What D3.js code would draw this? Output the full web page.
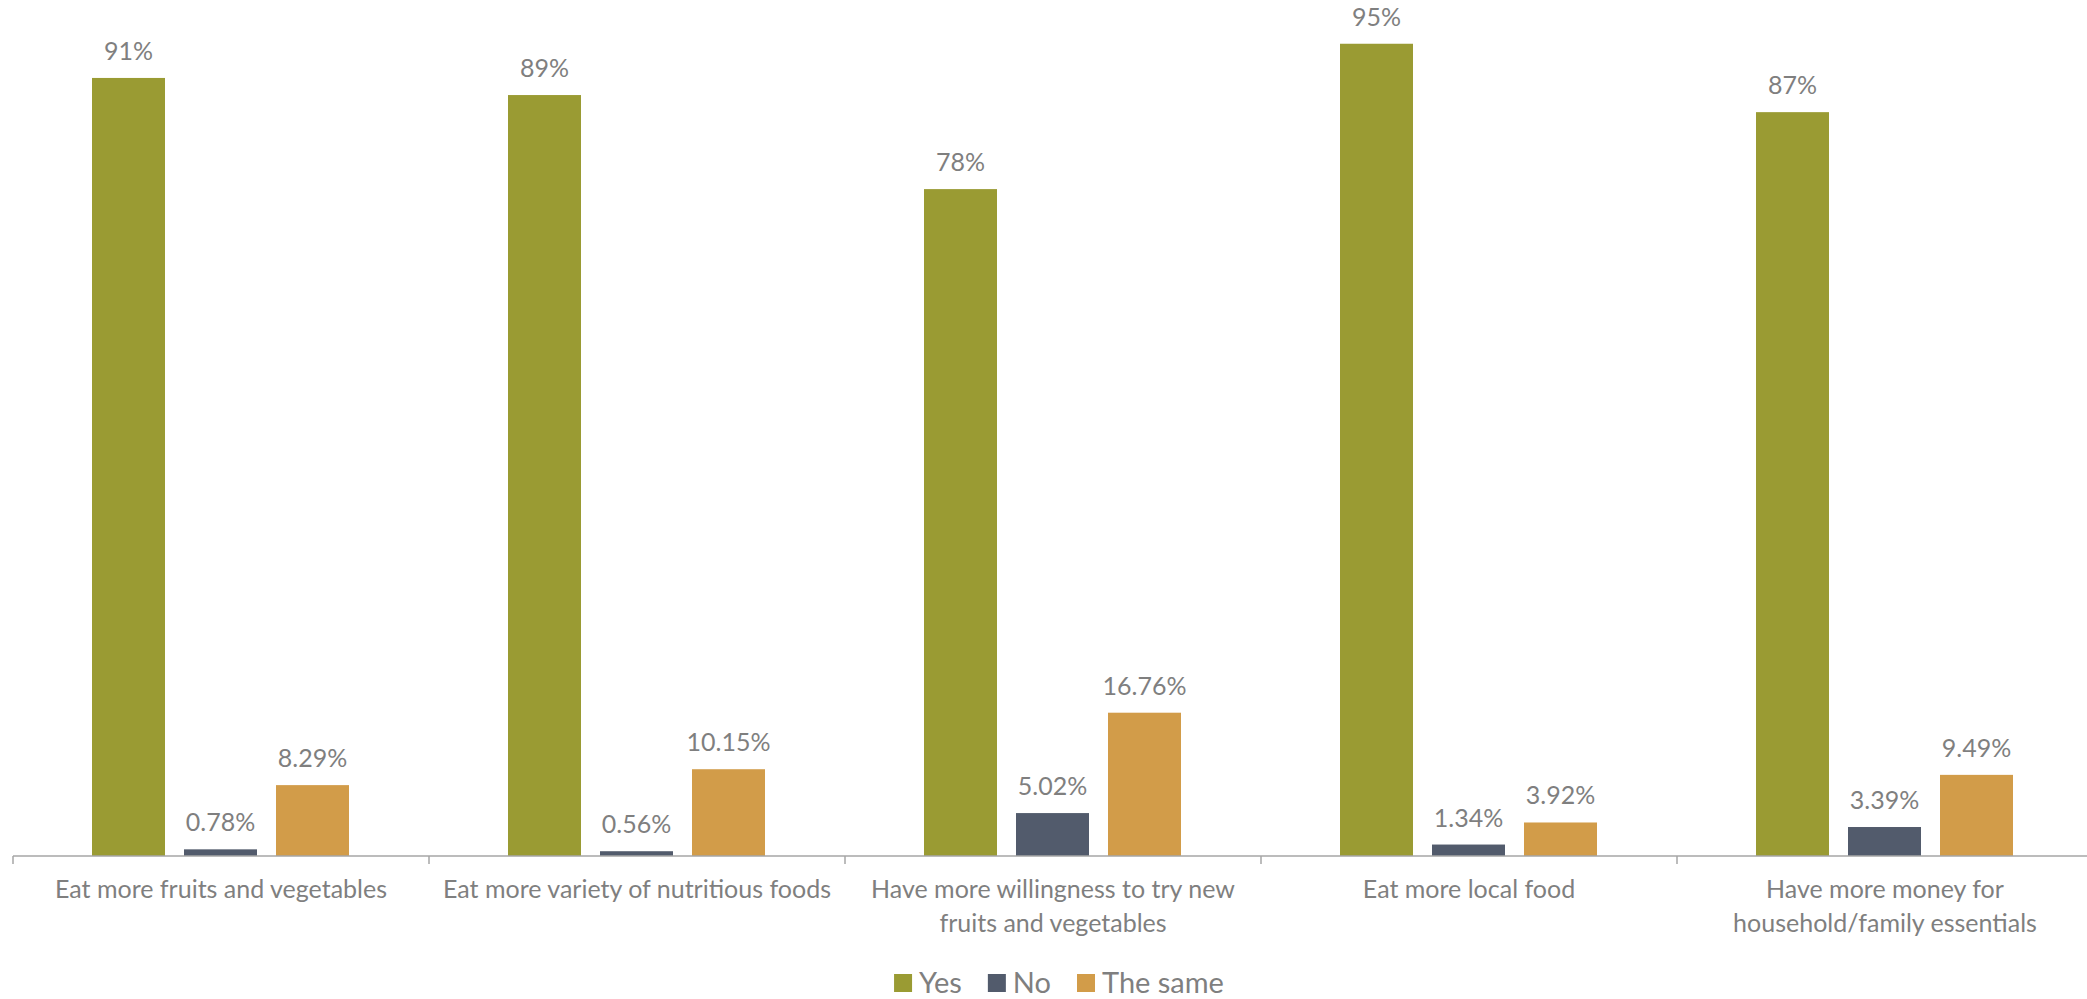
<!DOCTYPE html>
<html>
<head>
<meta charset="utf-8">
<script src="https://cdn.jsdelivr.net/npm/d3@7"></script>
<style>
  html, body { margin: 0; padding: 0; background: #fff; }
  svg { display: block; }
  text { font-family: Lato, "Open Sans", sans-serif; fill: #7f7f7f; }
</style>
</head>
<body>
<svg id="chart" width="2087" height="999"></svg>
<script>
// Survey outcomes per statement
const categories = [
  ["Eat more fruits and vegetables"],
  ["Eat more variety of nutritious foods"],
  ["Have more willingness to try new", "fruits and vegetables"],
  ["Eat more local food"],
  ["Have more money for", "household/family essentials"]
];
const seriesNames = ["Yes", "No", "The same"];
const yesValues = [91, 89, 78, 95, 87];
const noValues = [0.78, 0.56, 5.02, 1.34, 3.39];
const sameValues = [8.29, 10.15, 16.76, 3.92, 9.49];
const yesLabels = ["91%", "89%", "78%", "95%", "87%"];
const noLabels = ["0.78%", "0.56%", "5.02%", "1.34%", "3.39%"];
const sameLabels = ["8.29%", "10.15%", "16.76%", "3.92%", "9.49%"];
const colors = ["#9a9b33", "#525b6c", "#d29c49"];

const svg = d3.select("#chart");
const baseY = 856;

const keys = categories.map((c, i) => "c" + i);
const x0 = d3.scaleBand().domain(keys).range([13, 2093]).paddingInner(0).paddingOuter(0);
const x1 = d3.scaleBand().domain(seriesNames).range([79, 336]).paddingInner(19 / 92).paddingOuter(0);
const y = d3.scaleLinear().domain([0, 100]).range([baseY, 1]);

const values = [yesValues, noValues, sameValues];
const labels = [yesLabels, noLabels, sameLabels];

const rows = [];
keys.forEach((k, i) => {
  seriesNames.forEach((s, j) => {
    rows.push({ key: k, series: s, value: values[j][i], label: labels[j][i], color: colors[j] });
  });
});

const g = svg.append("g");

g.selectAll("rect.bar")
  .data(rows)
  .join("rect")
  .attr("class", "bar")
  .attr("x", d => x0(d.key) + x1(d.series))
  .attr("y", d => y(d.value))
  .attr("width", x1.bandwidth())
  .attr("height", d => baseY - y(d.value))
  .attr("fill", d => d.color);

g.selectAll("text.val")
  .data(rows)
  .join("text")
  .attr("class", "val")
  .attr("x", d => x0(d.key) + x1(d.series) + x1.bandwidth() / 2)
  .attr("y", d => y(d.value) - 18)
  .attr("text-anchor", "middle")
  .style("font-size", "25px")
  .text(d => d.label);

// Category axis with boundary ticks
const axisG = svg.append("g");
axisG.append("line")
  .attr("x1", 13).attr("x2", 2093)
  .attr("y1", baseY).attr("y2", baseY)
  .attr("stroke", "#a6a6a6").attr("stroke-width", 1.5);

const bounds = keys.map(k => x0(k)).concat([x0.range()[1]]);
axisG.selectAll("line.tick")
  .data(bounds)
  .join("line")
  .attr("class", "tick")
  .attr("x1", d => d).attr("x2", d => d)
  .attr("y1", baseY).attr("y2", baseY + 8)
  .attr("stroke", "#a6a6a6").attr("stroke-width", 1.5);

const catText = axisG.selectAll("text.cat")
  .data(categories)
  .join("text")
  .attr("class", "cat")
  .attr("x", (d, i) => x0(keys[i]) + x0.bandwidth() / 2)
  .attr("y", 898)
  .attr("text-anchor", "middle")
  .style("font-size", "25px");
catText.selectAll("tspan")
  .data(d => d)
  .join("tspan")
  .attr("x", function () { return this.parentNode.getAttribute("x"); })
  .attr("dy", (d, i) => i === 0 ? 0 : 34)
  .text(d => d);

// Legend
const legend = svg.append("g");
const items = legend.selectAll("g.item")
  .data(seriesNames)
  .join("g")
  .attr("class", "item");
items.append("rect")
  .attr("width", 18).attr("height", 18)
  .attr("y", 974)
  .attr("fill", (d, i) => colors[i]);
items.append("text")
  .attr("x", 25)
  .attr("y", 993)
  .style("font-size", "29px")
  .text(d => d);

let widths = [];
items.each(function () {
  widths.push(25 + d3.select(this).select("text").node().getComputedTextLength());
});
const gap = 26;
const total = d3.sum(widths) + gap * (widths.length - 1);
let cx = 1059 - total / 2;
items.each(function (d, i) {
  d3.select(this).attr("transform", `translate(${cx},0)`);
  cx += widths[i] + gap;
});
</script>
</body>
</html>
